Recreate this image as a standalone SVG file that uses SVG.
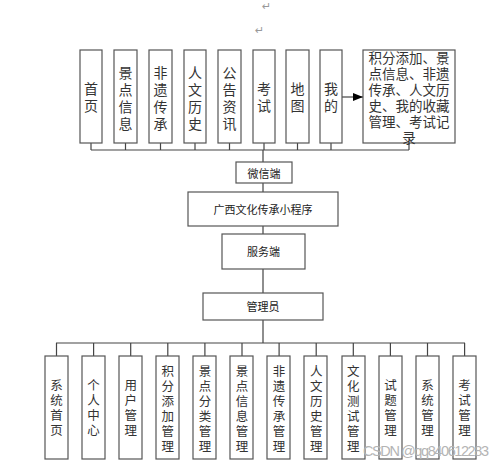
<svg xmlns="http://www.w3.org/2000/svg" width="500" height="464" viewBox="0 0 500 464">
<style>
.box{fill:#fff;stroke:#555;stroke-width:1.2}
.ln{stroke:#444;stroke-width:1.2;fill:none}
.vt{font-family:"Noto Sans CJK SC","Liberation Sans",sans-serif;font-size:14px;fill:#333;text-anchor:middle;dominant-baseline:central}
.vb{font-family:"Noto Sans CJK SC","Liberation Sans",sans-serif;font-size:12.5px;fill:#333;text-anchor:middle;dominant-baseline:central}
.ct{font-family:"Noto Sans CJK SC","Liberation Sans",sans-serif;font-size:11px;fill:#222;text-anchor:middle;dominant-baseline:central}
.bt{font-family:"Noto Sans CJK SC","Liberation Sans",sans-serif;font-size:13.5px;fill:#333;text-anchor:middle;dominant-baseline:central}
.ret{font-family:"DejaVu Sans",sans-serif;font-size:11px;fill:#999}
</style>
<defs>
<marker id="arr" markerWidth="10" markerHeight="8" refX="10" refY="4" orient="auto" markerUnits="userSpaceOnUse">
<path d="M0,0 L10,4 L0,8 Z" fill="#000"/>
</marker>
</defs>
<rect width="500" height="464" fill="#fff"/>
<text class="ret" x="262" y="10">↵</text>
<text class="ret" x="255" y="34">↵</text>

<g id="connectors">
<path class="ln" d="M91,143V150M125.5,143V150M160.5,143V150M195,143V150M229.5,143V150M264,143V150M297.5,143V150M331,143V150M409,143V150M91,150H409"/>
<path class="ln" d="M263,150V162M263,183V192M263,226V234M263,269V293M263,320V343"/>
<path class="ln" d="M56,343H465"/>
<path class="ln" d="M56.5,343V356M93.6,343V356M130.7,343V356M167.8,343V356M204.9,343V356M242,343V356M279.1,343V356M316.2,343V356M353.3,343V356M390.4,343V356M427.5,343V356M464.6,343V356"/>
<path class="ln" d="M342,97H363" marker-end="url(#arr)"/>
</g>

<g id="top-1"><rect class="box" x="80" y="50" width="22" height="93"/><text class="vt" x="91"><tspan x="91" y="88">首</tspan><tspan x="91" y="105">页</tspan></text></g>
<g id="top-2"><rect class="box" x="114" y="50" width="23" height="93"/><text class="vt"><tspan x="125.5" y="72">景</tspan><tspan x="125.5" y="89">点</tspan><tspan x="125.5" y="106">信</tspan><tspan x="125.5" y="123">息</tspan></text></g>
<g id="top-3"><rect class="box" x="149" y="50" width="23" height="93"/><text class="vt"><tspan x="160.5" y="72">非</tspan><tspan x="160.5" y="89">遗</tspan><tspan x="160.5" y="106">传</tspan><tspan x="160.5" y="123">承</tspan></text></g>
<g id="top-4"><rect class="box" x="184" y="50" width="22" height="93"/><text class="vt"><tspan x="195" y="72">人</tspan><tspan x="195" y="89">文</tspan><tspan x="195" y="106">历</tspan><tspan x="195" y="123">史</tspan></text></g>
<g id="top-5"><rect class="box" x="218" y="50" width="23" height="93"/><text class="vt"><tspan x="229.5" y="72">公</tspan><tspan x="229.5" y="89">告</tspan><tspan x="229.5" y="106">资</tspan><tspan x="229.5" y="123">讯</tspan></text></g>
<g id="top-6"><rect class="box" x="253" y="50" width="22" height="93"/><text class="vt"><tspan x="264" y="88">考</tspan><tspan x="264" y="105">试</tspan></text></g>
<g id="top-7"><rect class="box" x="286" y="50" width="23" height="93"/><text class="vt"><tspan x="297.5" y="88">地</tspan><tspan x="297.5" y="105">图</tspan></text></g>
<g id="top-8"><rect class="box" x="320" y="50" width="22" height="93"/><text class="vt"><tspan x="331" y="88">我</tspan><tspan x="331" y="105">的</tspan></text></g>
<g id="top-detail"><rect class="box" x="363" y="50" width="92" height="93"/><text class="bt"><tspan x="409" y="57">积分添加、景</tspan><tspan x="409" y="73">点信息、非遗</tspan><tspan x="409" y="89">传承、人文历</tspan><tspan x="409" y="105">史、我的收藏</tspan><tspan x="409" y="121">管理、考试记</tspan><tspan x="409" y="137">录</tspan></text></g>

<g id="wechat"><rect class="box" x="236" y="162" width="56" height="21"/><text class="ct" x="264" y="172.5">微信端</text></g>
<g id="miniapp"><rect class="box" x="188" y="192" width="150" height="34"/><text class="ct" x="263" y="209">广西文化传承小程序</text></g>
<g id="server"><rect class="box" x="222" y="234" width="83" height="35"/><text class="ct" x="263.5" y="251">服务端</text></g>
<g id="admin"><rect class="box" x="203" y="293" width="120" height="27"/><text class="ct" x="263" y="306">管理员</text></g>

<g id="b1"><rect class="box" x="45" y="356" width="23" height="103"/><text class="vb"><tspan x="56.5" y="384">系</tspan><tspan x="56.5" y="399">统</tspan><tspan x="56.5" y="414">首</tspan><tspan x="56.5" y="429">页</tspan></text></g>
<g id="b2"><rect class="box" x="82" y="356" width="23" height="103"/><text class="vb"><tspan x="93.6" y="384">个</tspan><tspan x="93.6" y="399">人</tspan><tspan x="93.6" y="414">中</tspan><tspan x="93.6" y="429">心</tspan></text></g>
<g id="b3"><rect class="box" x="119" y="356" width="23" height="103"/><text class="vb"><tspan x="130.7" y="384">用</tspan><tspan x="130.7" y="399">户</tspan><tspan x="130.7" y="414">管</tspan><tspan x="130.7" y="429">理</tspan></text></g>
<g id="b4"><rect class="box" x="156" y="356" width="23" height="103"/><text class="vb"><tspan x="167.8" y="370">积</tspan><tspan x="167.8" y="385">分</tspan><tspan x="167.8" y="400">添</tspan><tspan x="167.8" y="415">加</tspan><tspan x="167.8" y="430">管</tspan><tspan x="167.8" y="445">理</tspan></text></g>
<g id="b5"><rect class="box" x="193" y="356" width="23" height="103"/><text class="vb"><tspan x="204.9" y="370">景</tspan><tspan x="204.9" y="385">点</tspan><tspan x="204.9" y="400">分</tspan><tspan x="204.9" y="415">类</tspan><tspan x="204.9" y="430">管</tspan><tspan x="204.9" y="445">理</tspan></text></g>
<g id="b6"><rect class="box" x="230" y="356" width="23" height="103"/><text class="vb"><tspan x="242" y="370">景</tspan><tspan x="242" y="385">点</tspan><tspan x="242" y="400">信</tspan><tspan x="242" y="415">息</tspan><tspan x="242" y="430">管</tspan><tspan x="242" y="445">理</tspan></text></g>
<g id="b7"><rect class="box" x="267" y="356" width="23" height="103"/><text class="vb"><tspan x="279.1" y="370">非</tspan><tspan x="279.1" y="385">遗</tspan><tspan x="279.1" y="400">传</tspan><tspan x="279.1" y="415">承</tspan><tspan x="279.1" y="430">管</tspan><tspan x="279.1" y="445">理</tspan></text></g>
<g id="b8"><rect class="box" x="304" y="356" width="23" height="103"/><text class="vb"><tspan x="316.2" y="370">人</tspan><tspan x="316.2" y="385">文</tspan><tspan x="316.2" y="400">历</tspan><tspan x="316.2" y="415">史</tspan><tspan x="316.2" y="430">管</tspan><tspan x="316.2" y="445">理</tspan></text></g>
<g id="b9"><rect class="box" x="342" y="356" width="23" height="103"/><text class="vb"><tspan x="353.3" y="370">文</tspan><tspan x="353.3" y="385">化</tspan><tspan x="353.3" y="400">测</tspan><tspan x="353.3" y="415">试</tspan><tspan x="353.3" y="430">管</tspan><tspan x="353.3" y="445">理</tspan></text></g>
<g id="b10"><rect class="box" x="379" y="356" width="23" height="103"/><text class="vb"><tspan x="390.4" y="384">试</tspan><tspan x="390.4" y="399">题</tspan><tspan x="390.4" y="414">管</tspan><tspan x="390.4" y="429">理</tspan></text></g>
<g id="b11"><rect class="box" x="416" y="356" width="23" height="103"/><text class="vb"><tspan x="427.5" y="384">系</tspan><tspan x="427.5" y="399">统</tspan><tspan x="427.5" y="414">管</tspan><tspan x="427.5" y="429">理</tspan></text></g>
<g id="b12"><rect class="box" x="453" y="356" width="23" height="103"/><text class="vb"><tspan x="464.6" y="384">考</tspan><tspan x="464.6" y="399">试</tspan><tspan x="464.6" y="414">管</tspan><tspan x="464.6" y="429">理</tspan></text></g>

<text x="363" y="456" font-family="Liberation Sans, sans-serif" font-size="14.5" fill="#b4b4b4" textLength="126">CSDN @qq840612283</text>
</svg>
